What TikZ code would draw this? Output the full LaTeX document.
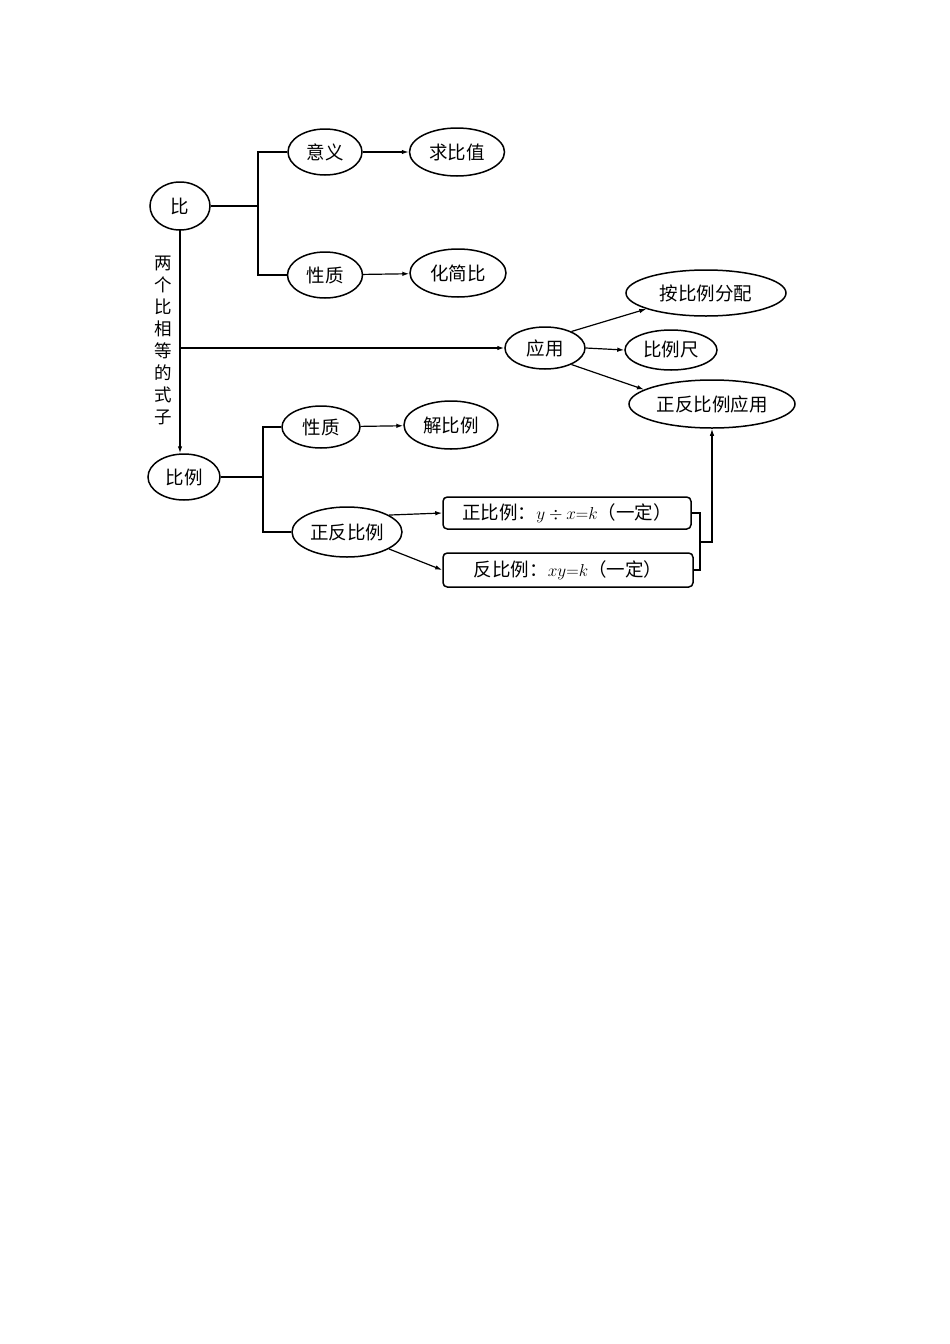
\documentclass[tikz,border=0pt]{standalone}
\usepackage{fontspec}
\setmainfont{Noto Sans CJK SC}
\usepackage{tikz}
\usetikzlibrary{arrows.meta,shapes.geometric}
\tikzstyle{chart} = [x = 1pt, y = -1pt]
\tikzstyle{topicStyle} = [draw, ellipse, line width = 1.5pt, inner sep = 0pt, font = \fontsize{18.5}{20}\selectfont]
\tikzstyle{formulaStyle} = [draw, rectangle, rounded corners = .15cm, line width = 1.5pt, inner sep = 0pt, font = \fontsize{18.5}{20}\selectfont]
\tikzstyle{linkLine} = [line width = 1.2pt]
\tikzstyle{linkArrow} = [line width = 1.2pt, -{Latex[length=7pt, width=4.5pt]}]
\newcommand{\topicNode}[6]{\node [topicStyle, minimum width = #4pt, minimum height = #5pt] (#1) at (#2, #3) {#6};}
\newcommand{\formulaNode}[6]{\node [formulaStyle, minimum width = #4pt, minimum height = #5pt] (#1) at (#2, #3) {#6};}

\begin{document}
\begin{tikzpicture}[chart]
  \useasboundingbox (0,0) rectangle (950,1344);
  \topicNode{bi}{180}{206}{60}{48}{比}
  \topicNode{meaning}{325}{152}{74}{46}{意义}
  \topicNode{ratioValue}{457}{152}{95}{48}{求比值}
  \topicNode{ratioProperty}{325}{275}{75}{46}{性质}
  \topicNode{simplify}{458}{273}{96}{48}{化简比}
  \topicNode{use}{545}{348}{80}{42}{应用}
  \topicNode{share}{706}{293}{160}{46}{按比例分配}
  \topicNode{scale}{671}{350}{92}{40}{比例尺}
  \topicNode{directInverseUse}{712}{404}{166}{48}{正反比例应用}
  \topicNode{bili}{184}{477}{72}{46}{比例}
  \topicNode{proportionProperty}{321}{427}{78}{42}{性质}
  \topicNode{solve}{451}{425}{94}{48}{解比例}
  \topicNode{directInverse}{347}{532}{110}{50}{正反比例}
  \formulaNode{direct}{567}{513}{248}{32}{正比例：$y\div x{=}k$（一定）}
  \formulaNode{inverse}{568}{570}{250}{34}{反比例：$xy{=}k$（一定）}
  \node [font = \fontsize{17.5}{22}\selectfont, align = center, inner sep = 0pt] (definition) at (163, 340) {两\\个\\比\\相\\等\\的\\式\\子};

  % ratio branch
  \coordinate (forkRatio) at (258, 206);
  \draw [linkLine] (bi.east) -- (forkRatio);
  \draw [linkLine] (meaning.west) -| (forkRatio) |- (ratioProperty.west);
  \draw [linkArrow] (meaning) -- (ratioValue);
  \draw [linkArrow] (ratioProperty) -- (simplify);

  % from ratio to proportion
  \coordinate (trunkTop) at (180, 230);
  \coordinate (trunkBranch) at (180, 348);
  \draw [linkArrow] (trunkTop) -- (bili.north -| trunkTop);
  \draw [linkArrow] (trunkBranch) -- (use.west);
  \draw [linkArrow] (use.32) -- (share.195);
  \draw [linkArrow] (use.east) -- (scale.west);
  \draw [linkArrow] (use.-32) -- (directInverseUse.168);

  % proportion branch
  \coordinate (forkProportion) at (263, 477);
  \draw [linkLine] (bili.east) -- (forkProportion);
  \draw [linkLine] (proportionProperty.west) -| (forkProportion) |- (directInverse.west);
  \draw [linkArrow] (proportionProperty) -- (solve);
  \draw [linkArrow] (directInverse.22) -- (direct.west);
  \draw [linkArrow] (directInverse.-22) -- (inverse.west);

  % both kinds lead to the application
  \coordinate (join) at (700, 542);
  \draw [linkLine] (direct.east) -| (join) |- (inverse.east);
  \draw [linkArrow] (join) -| (directInverseUse.south);
\end{tikzpicture}
\end{document}
